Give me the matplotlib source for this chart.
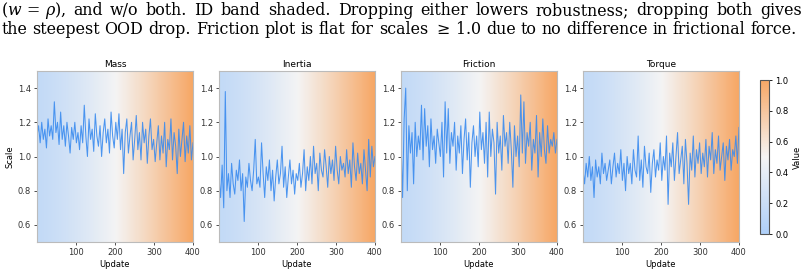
import numpy as np
import matplotlib
matplotlib.use("Agg")
import matplotlib.pyplot as plt
from matplotlib.colors import LinearSegmentedColormap

# values (one value about every 4 updates)
mass = [1.12, 1.18, 1.08, 1.20, 1.10, 1.16, 1.05, 1.22, 1.12, 1.18, 1.10, 1.32, 1.14,
        1.20, 1.07, 1.26, 1.10, 1.18, 1.06, 1.20, 1.12, 1.02, 1.17, 1.10, 1.20, 1.08,
        1.14, 1.04, 1.18, 1.08, 1.30, 1.12, 1.00, 1.22, 1.10, 1.16, 1.03, 1.25, 1.12,
        1.06, 1.18, 1.00, 1.14, 1.22, 1.08, 1.16, 1.02, 1.26, 1.12, 1.05, 1.20,
        1.10, 1.25, 1.04, 1.16, 0.90, 1.14, 1.22, 1.02, 1.12, 1.20, 0.98, 1.10, 1.24,
        1.04, 1.14, 0.98, 1.20, 1.08, 1.16, 0.96, 1.12, 1.22, 1.04, 1.10, 0.97,
        1.08, 1.18, 0.98, 1.12, 1.02, 1.20, 0.94, 1.10, 1.04, 1.22, 0.98, 1.14,
        1.06, 0.90, 1.16, 1.00, 1.10, 1.20, 0.97, 1.12, 1.02, 1.18, 0.98, 1.08]
inertia = [0.88, 0.76, 0.95, 0.70, 1.38,
           0.80, 0.90, 0.76, 0.96, 0.84, 0.78, 0.92, 0.86, 0.98, 0.80, 0.90, 0.62,
           0.88, 0.82, 0.96, 0.86, 0.80, 0.92, 1.10, 0.84, 0.88,
           0.82, 1.08, 0.90, 0.76, 0.94, 0.86, 0.98, 0.80, 0.92, 0.74, 0.88, 0.98,
           0.84, 0.90, 1.06, 0.82, 0.94, 0.76, 0.88, 0.98, 0.84, 0.92, 0.78, 0.90, 0.86,
           0.96, 0.82, 0.90, 1.04, 0.80, 0.94, 0.86, 1.00, 0.84, 1.06, 0.90, 0.96,
           0.80, 1.02, 0.92, 0.88, 1.04, 0.94, 0.82, 1.00, 0.90, 0.98, 0.86, 1.06, 0.92,
           0.84, 1.00, 0.92, 0.96, 0.88, 1.04, 0.90, 0.98, 0.82, 1.08, 0.94, 0.86,
           1.02, 0.90, 0.96, 0.84, 1.04, 0.92, 0.80, 1.10, 0.88, 1.06, 0.94, 1.00]
friction = [1.10, 0.76, 1.22, 1.40, 0.80, 1.18, 1.02, 1.14, 0.84, 1.20, 1.00, 1.12, 1.04,
            1.30, 0.98, 1.28, 1.06, 1.18, 0.94, 1.22, 1.04, 1.12, 0.96, 1.16, 1.08, 1.00,
            1.20, 0.88, 1.32, 1.02, 1.28, 0.96, 1.14, 1.06, 1.20, 0.92, 1.12, 1.02, 1.18,
            0.90, 1.10, 1.22, 0.98, 1.14, 0.82, 1.08, 1.18, 1.00, 1.12, 0.94, 1.26,
            1.04, 1.14, 0.96, 1.20, 0.88, 1.26, 1.00, 1.16, 1.08, 0.78, 1.20, 1.02, 1.12,
            0.92, 1.24, 1.06, 1.14, 0.96, 1.20, 1.04, 0.82, 1.18, 1.00, 1.12, 0.94,
            1.36, 1.02, 1.32, 0.96, 1.14, 1.06, 1.20, 0.92, 1.10, 1.02, 1.24, 0.88,
            1.14, 1.00, 1.22, 1.04, 0.96, 1.18, 1.02, 1.10, 1.06, 1.14, 1.02, 1.10]
torque = [0.92, 0.84, 0.96, 0.88, 1.00, 0.86, 0.94, 0.76, 0.98, 0.88, 0.94, 0.84, 1.02,
          0.90, 0.96, 0.86, 0.92, 0.98, 0.84, 0.94, 1.02, 0.88, 0.96, 0.90, 1.04, 0.86,
          0.96, 0.80, 1.00, 0.90, 0.96, 0.84, 1.04, 0.92, 0.88, 1.12, 0.86, 0.98, 0.82,
          1.06, 0.94, 0.90, 1.02, 0.79, 0.96, 1.04, 0.88, 0.98, 0.92, 1.08, 0.86,
          1.00, 0.92, 1.12, 0.72, 1.02, 0.94, 1.08, 0.86, 1.00, 1.14, 0.90, 0.98, 1.06,
          0.84, 1.10, 0.96, 0.72, 1.02, 0.92, 1.12, 0.88, 1.04, 0.96, 1.08, 0.90,
          1.02, 0.94, 1.10, 0.88, 1.06, 0.98, 1.14, 0.90, 1.04, 0.96, 1.12, 0.92,
          1.00, 1.08, 0.86, 1.06, 0.98, 1.10, 0.92, 1.04, 1.00, 1.12, 0.96, 1.17]

titles = ["Mass", "Inertia", "Friction", "Torque"]
series = [mass, inertia, friction, torque]

caption1 = [r"($w\,=\,\rho$),", "and", "w/o", "both.", "ID", "band", "shaded.", "Dropping",
            "either", "lowers", "robustness;", "dropping", "both", "gives"]
caption2 = ["the", "steepest", "OOD", "drop.", "Friction", "plot", "is", "flat", "for",
            "scales", r"$\geq$", r"$1.0$", "due", "to", "no", "difference", "in",
            "frictional", "force."]

plt.rcParams["mathtext.fontset"] = "dejavuserif"
plt.rcParams["font.size"] = 6

cmap = LinearSegmentedColormap.from_list("idood", ["#aecff8", "#f4f4f4", "#f7a765"])

fig = plt.figure(figsize=(8.04, 2.72), dpi=100)

W, H = 804, 272
lefts = [37, 219, 401, 583]
x = np.linspace(1, 400, len(mass))
t = np.linspace(0, 1, 256)
grad = (0.15 + 0.85 * t ** 1.3)[None, :]

for i, (left, title, vals) in enumerate(zip(lefts, titles, series)):
    ax = fig.add_axes([left / W, 30 / H, 156 / W, 171 / H])
    ax.imshow(grad, extent=[1, 400, 0.5, 1.5], aspect="auto", cmap=cmap,
              vmin=0, vmax=1, zorder=0)
    ax.plot(x, vals, color="#3a8bef", lw=0.75, alpha=0.9, zorder=2)
    ax.set_xlim(1, 400)
    ax.set_ylim(0.5, 1.5)
    ax.set_xticks([100, 200, 300, 400])
    ax.set_yticks([0.6, 0.8, 1.0, 1.2, 1.4])
    ax.set_title(title, fontsize=6.5, pad=3)
    ax.set_xlabel("Update", fontsize=6, labelpad=2)
    if i == 0:
        ax.set_ylabel("Scale", fontsize=6, labelpad=2)
    ax.tick_params(labelsize=6, length=2.5, width=0.6, pad=2, colors="#333333")
    for s in ax.spines.values():
        s.set_color("#bbbbbb")
        s.set_linewidth(0.8)

cax = fig.add_axes([760 / W, 38 / H, 9 / W, 154 / H])
sm = plt.cm.ScalarMappable(cmap=cmap, norm=plt.Normalize(0, 1))
cb = fig.colorbar(sm, cax=cax)
cb.set_ticks([0.0, 0.2, 0.4, 0.6, 0.8, 1.0])
cb.set_label("Value", fontsize=6, labelpad=3)
cb.ax.tick_params(labelsize=6, length=2.5, width=0.6, pad=2)
cb.outline.set_linewidth(0.8)
cb.outline.set_edgecolor("#555555")

r = fig.canvas.get_renderer()
serif = "DejaVu Serif"


def word_widths(words, size):
    ts = [fig.text(0, 0, w, fontsize=size, family=serif) for w in words]
    ws = [tt.get_window_extent(r).width for tt in ts]
    for tt in ts:
        tt.remove()
    return ws


def justify(words, y_px, x0_px, x1_px, size):
    widths = word_widths(words, size)
    gap = (x1_px - x0_px - sum(widths)) / (len(words) - 1)
    pos = x0_px
    for w, wd in zip(words, widths):
        fig.text(pos / W, 1 - y_px / H, w, fontsize=size, family=serif,
                 va="baseline", ha="left")
        pos += wd + gap


# pick the caption size so that line 2 fills the width with ~0.3 em spaces
w10 = sum(word_widths(caption2, 10))
size = 796 / (w10 / 10 + (len(caption2) - 1) * 0.3 * 100 / 72)

justify(caption1, 15, 1, 802, size)
justify(caption2, 34, 1, 797, size)

fig.savefig("out.png", dpi=100)
